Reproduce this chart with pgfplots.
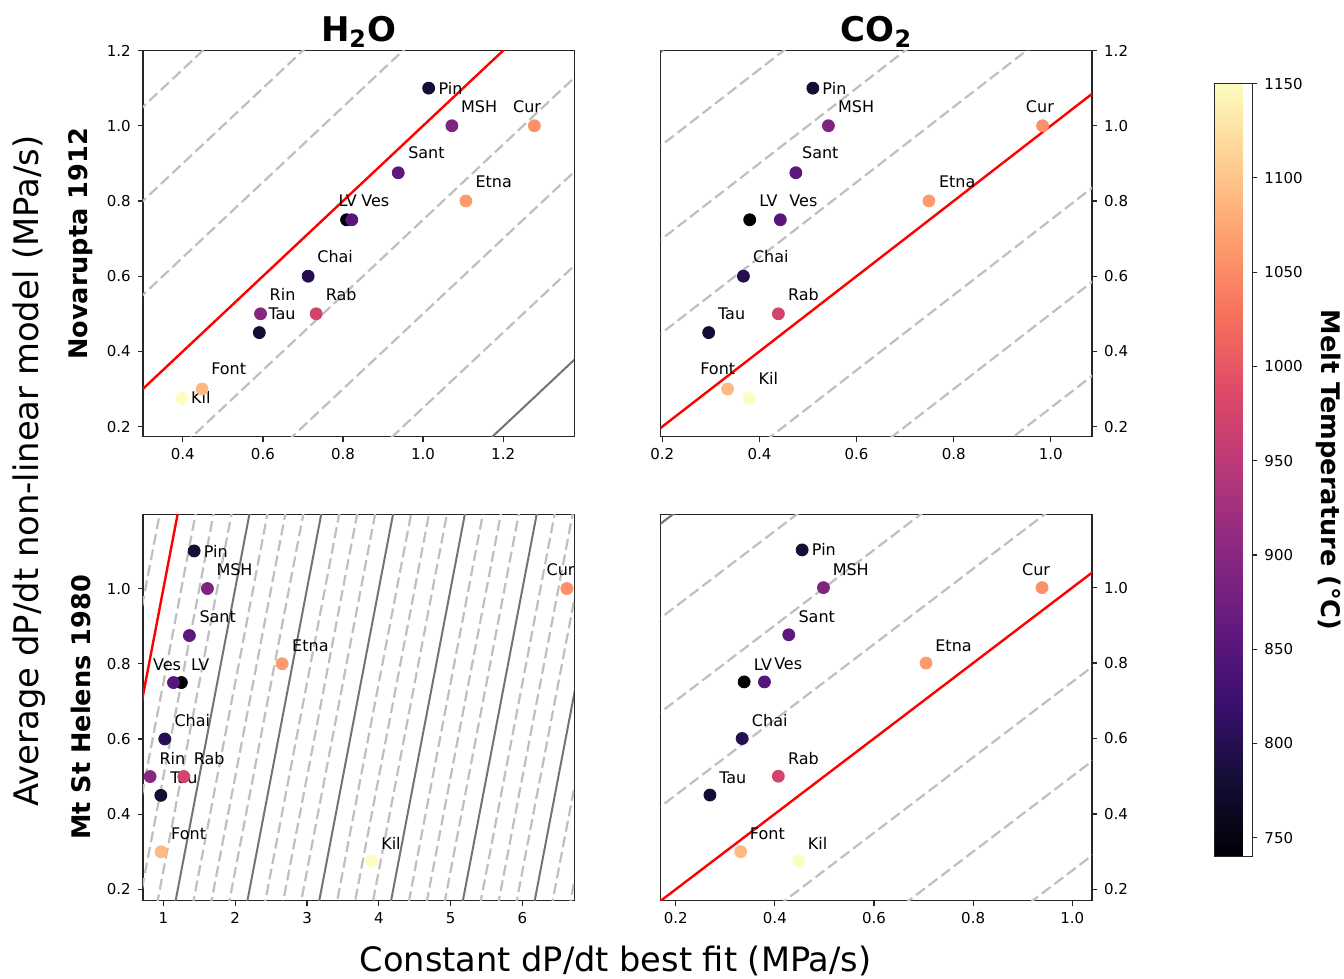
\documentclass[border=0pt]{standalone}
\usepackage{fontspec}
\setmainfont{DejaVu Sans}
\usepackage{pgfplots}
\pgfplotsset{compat=1.18}
\usepackage{pgfplotstable}

\pgfplotsset{colormap={magma}{rgb255=(0,0,4) rgb255=(20,14,54) rgb255=(59,15,112) rgb255=(100,26,128) rgb255=(140,41,129) rgb255=(183,55,121) rgb255=(222,73,104) rgb255=(247,112,92) rgb255=(254,159,109) rgb255=(254,207,146) rgb255=(252,253,191)}}

% H2O, Novarupta 1912
\pgfplotstableread{
name x y T
Pin 1.014 1.10 780
MSH 1.072 1.00 890
Cur 1.278 1.00 1055
Sant 0.938 0.875 855
Etna 1.107 0.80 1065
LV 0.809 0.75 740
Ves 0.822 0.75 850
Chai 0.713 0.60 800
Rin 0.594 0.50 900
Rab 0.733 0.50 975
Tau 0.591 0.45 780
Font 0.448 0.30 1090
Kil 0.398 0.275 1150
}\tabA
% CO2, Novarupta 1912
\pgfplotstableread{
name x y T
Pin 0.510 1.10 780
MSH 0.542 1.00 890
Cur 0.983 1.00 1055
Sant 0.475 0.875 855
Etna 0.749 0.80 1065
LV 0.380 0.75 740
Ves 0.443 0.75 850
Chai 0.367 0.60 800
Rab 0.439 0.50 975
Tau 0.2955 0.45 780
Font 0.3345 0.30 1090
Kil 0.379 0.275 1150
}\tabB
% H2O, Mt St Helens 1980
\pgfplotstableread{
name x y T
Pin 1.428 1.10 780
MSH 1.613 1.00 890
Cur 6.618 1.00 1055
Sant 1.362 0.875 855
Etna 2.653 0.80 1065
LV 1.250 0.75 740
Ves 1.140 0.75 850
Chai 1.019 0.60 800
Rin 0.815 0.50 900
Rab 1.284 0.50 975
Tau 0.964 0.45 780
Font 0.968 0.30 1090
Kil 3.897 0.275 1150
}\tabC
% CO2, Mt St Helens 1980
\pgfplotstableread{
name x y T
Pin 0.455 1.10 780
MSH 0.498 1.00 890
Cur 0.939 1.00 1055
Sant 0.428 0.875 855
Etna 0.705 0.80 1065
LV 0.338 0.75 740
Ves 0.379 0.75 850
Chai 0.334 0.60 800
Rab 0.407 0.50 975
Tau 0.269 0.45 780
Font 0.331 0.30 1090
Kil 0.448 0.275 1150
}\tabD

\pgfplotsset{
  panel/.style={scale only axis, width=215.7pt, height=193.1pt, anchor=south west,
    tick align=outside, major tick length=2.5pt,
    tick style={black!85, line width=0.6pt},
    axis line style={black!85, line width=0.7pt},
    tick label style={font=\fontsize{7.5}{9}\selectfont},
    /pgf/number format/assume math mode=true,
    /pgf/number format/1000 sep={},
    colormap name=magma, point meta min=740, point meta max=1150},
  onedec/.style={/pgf/number format/fixed, /pgf/number format/fixed zerofill, /pgf/number format/precision=1},
  dguide/.style={color=black!25, line width=1.1pt, dash pattern=on 5.5pt off 2.4pt},
  sguide/.style={color=black!55, line width=1pt},
  rguide/.style={color=red, line width=1.2pt},
  pts/.style={scatter, only marks, mark=*, mark size=3pt,
    scatter/use mapped color={draw=mapped color, fill=mapped color},
    point meta=\thisrow{T}},
}
\tikzset{lbl/.style={anchor=west, inner sep=0pt, font=\fontsize{8}{9.6}\selectfont}}

\newcommand\guides{%
\addplot[dguide] coordinates {(0,-6.75)(8,1.25)};
\addplot[dguide] coordinates {(0,-6.5)(8,1.5)};
\addplot[dguide] coordinates {(0,-6.25)(8,1.75)};
\addplot[dguide] coordinates {(0,-5.75)(8,2.25)};
\addplot[dguide] coordinates {(0,-5.5)(8,2.5)};
\addplot[dguide] coordinates {(0,-5.25)(8,2.75)};
\addplot[dguide] coordinates {(0,-4.75)(8,3.25)};
\addplot[dguide] coordinates {(0,-4.5)(8,3.5)};
\addplot[dguide] coordinates {(0,-4.25)(8,3.75)};
\addplot[dguide] coordinates {(0,-3.75)(8,4.25)};
\addplot[dguide] coordinates {(0,-3.5)(8,4.5)};
\addplot[dguide] coordinates {(0,-3.25)(8,4.75)};
\addplot[dguide] coordinates {(0,-2.75)(8,5.25)};
\addplot[dguide] coordinates {(0,-2.5)(8,5.5)};
\addplot[dguide] coordinates {(0,-2.25)(8,5.75)};
\addplot[dguide] coordinates {(0,-1.75)(8,6.25)};
\addplot[dguide] coordinates {(0,-1.5)(8,6.5)};
\addplot[dguide] coordinates {(0,-1.25)(8,6.75)};
\addplot[dguide] coordinates {(0,-0.75)(8,7.25)};
\addplot[dguide] coordinates {(0,-0.5)(8,7.5)};
\addplot[dguide] coordinates {(0,-0.25)(8,7.75)};
\addplot[dguide] coordinates {(0,0.25)(8,8.25)};
\addplot[dguide] coordinates {(0,0.5)(8,8.5)};
\addplot[dguide] coordinates {(0,0.75)(8,8.75)};
\addplot[sguide] coordinates {(0,-6)(8,2)};
\addplot[sguide] coordinates {(0,-5)(8,3)};
\addplot[sguide] coordinates {(0,-4)(8,4)};
\addplot[sguide] coordinates {(0,-3)(8,5)};
\addplot[sguide] coordinates {(0,-2)(8,6)};
\addplot[sguide] coordinates {(0,-1)(8,7)};
\addplot[sguide] coordinates {(0,1)(8,9)};
\addplot[rguide] coordinates {(0,0)(8,8)};
}

\begin{document}
\begin{tikzpicture}
\useasboundingbox (0,0) rectangle (672pt,489.5pt);

% ---- top left: H2O Novarupta
\begin{axis}[panel, at={(71.4pt,271.1pt)},
  xmin=0.3, xmax=1.3775, ymin=0.173, ymax=1.2,
  xtick={0.4,0.6,0.8,1.0,1.2}, ytick={0.2,0.4,0.6,0.8,1.0,1.2},
  xticklabel style={onedec}, yticklabel style={onedec},
  xtick pos=bottom, ytick pos=left]
\guides
\addplot[pts] table[x=x,y=y] {\tabA};
\node[lbl] at (axis cs:1.038,1.10) {Pin};
\node[lbl] at (axis cs:1.094,1.052) {MSH};
\node[lbl] at (axis cs:1.224,1.052) {Cur};
\node[lbl] at (axis cs:0.962,0.928) {Sant};
\node[lbl] at (axis cs:1.130,0.851) {Etna};
\node[lbl] at (axis cs:0.788,0.80) {LV};
\node[lbl] at (axis cs:0.845,0.80) {Ves};
\node[lbl] at (axis cs:0.735,0.651) {Chai};
\node[lbl] at (axis cs:0.616,0.552) {Rin};
\node[lbl] at (axis cs:0.756,0.552) {Rab};
\node[lbl] at (axis cs:0.613,0.501) {Tau};
\node[lbl] at (axis cs:0.470,0.353) {Font};
\node[lbl] at (axis cs:0.420,0.277) {Kil};
\end{axis}

% ---- top right: CO2 Novarupta
\begin{axis}[panel, at={(330.35pt,271.1pt)},
  xmin=0.1967, xmax=1.085, ymin=0.173, ymax=1.2,
  xtick={0.2,0.4,0.6,0.8,1.0}, ytick={0.2,0.4,0.6,0.8,1.0,1.2},
  xticklabel style={onedec}, yticklabel style={onedec},
  xtick pos=bottom, ytick pos=right, yticklabel pos=right,
  colorbar,
  colorbar style={at={(parent axis.north east)}, anchor=north west,
    xshift=52.6pt, yshift=-16.5pt, scale only axis, width=19pt, height=386.5pt,
    ytick={750,800,...,1150}, yticklabel pos=right, ytick pos=right,
    tick align=outside, major tick length=2.5pt,
    tick style={black!85, line width=0.6pt},
    axis line style={black!85, line width=0.6pt},
    tick label style={font=\fontsize{7.5}{9}\selectfont},
    /pgf/number format/assume math mode=true,
    /pgf/number format/1000 sep={}}]
\guides
\addplot[pts] table[x=x,y=y] {\tabB};
\node[lbl] at (axis cs:0.529,1.10) {Pin};
\node[lbl] at (axis cs:0.561,1.052) {MSH};
\node[lbl] at (axis cs:0.948,1.052) {Cur};
\node[lbl] at (axis cs:0.487,0.928) {Sant};
\node[lbl] at (axis cs:0.769,0.851) {Etna};
\node[lbl] at (axis cs:0.399,0.80) {LV};
\node[lbl] at (axis cs:0.461,0.80) {Ves};
\node[lbl] at (axis cs:0.386,0.651) {Chai};
\node[lbl] at (axis cs:0.458,0.552) {Rab};
\node[lbl] at (axis cs:0.314,0.501) {Tau};
\node[lbl] at (axis cs:0.2775,0.353) {Font};
\node[lbl] at (axis cs:0.3975,0.327) {Kil};
\end{axis}

% ---- bottom left: H2O Mt St Helens
\begin{axis}[panel, at={(71.4pt,39.15pt)},
  xmin=0.713, xmax=6.72, ymin=0.17, ymax=1.197,
  xtick={1,2,3,4,5,6}, ytick={0.2,0.4,0.6,0.8,1.0},
  yticklabel style={onedec},
  xtick pos=bottom, ytick pos=left]
\guides
\addplot[pts] table[x=x,y=y] {\tabC};
\node[lbl] at (axis cs:1.557,1.10) {Pin};
\node[lbl] at (axis cs:1.734,1.05) {MSH};
\node[lbl] at (axis cs:6.33,1.05) {Cur};
\node[lbl] at (axis cs:1.497,0.925) {Sant};
\node[lbl] at (axis cs:2.788,0.848) {Etna};
\node[lbl] at (axis cs:0.852,0.798) {Ves};
\node[lbl] at (axis cs:1.381,0.798) {LV};
\node[lbl] at (axis cs:1.149,0.648) {Chai};
\node[lbl] at (axis cs:0.94,0.548) {Rin};
\node[lbl] at (axis cs:1.418,0.548) {Rab};
\node[lbl] at (axis cs:1.093,0.497) {Tau};
\node[lbl] at (axis cs:1.103,0.348) {Font};
\node[lbl] at (axis cs:4.028,0.322) {Kil};
\end{axis}

% ---- bottom right: CO2 Mt St Helens
\begin{axis}[panel, at={(330.35pt,39.15pt)},
  xmin=0.1697, xmax=1.04, ymin=0.17, ymax=1.194,
  xtick={0.2,0.4,0.6,0.8,1.0}, ytick={0.2,0.4,0.6,0.8,1.0},
  xticklabel style={onedec}, yticklabel style={onedec},
  xtick pos=bottom, ytick pos=right, yticklabel pos=right]
\guides
\addplot[pts] table[x=x,y=y] {\tabD};
\node[lbl] at (axis cs:0.474,1.10) {Pin};
\node[lbl] at (axis cs:0.516,1.048) {MSH};
\node[lbl] at (axis cs:0.898,1.048) {Cur};
\node[lbl] at (axis cs:0.447,0.922) {Sant};
\node[lbl] at (axis cs:0.723,0.846) {Etna};
\node[lbl] at (axis cs:0.357,0.797) {LV};
\node[lbl] at (axis cs:0.398,0.797) {Ves};
\node[lbl] at (axis cs:0.353,0.647) {Chai};
\node[lbl] at (axis cs:0.426,0.546) {Rab};
\node[lbl] at (axis cs:0.287,0.497) {Tau};
\node[lbl] at (axis cs:0.349,0.347) {Font};
\node[lbl] at (axis cs:0.466,0.322) {Kil};
\end{axis}

% ---- titles and labels
\node[anchor=base, font=\bfseries\fontsize{17}{20}\selectfont] at (179.25pt,468.5pt) {H\textsubscript{2}O};
\node[anchor=base, font=\bfseries\fontsize{17}{20}\selectfont] at (438.25pt,468.5pt) {CO\textsubscript{2}};
\node[rotate=90, font=\bfseries\fontsize{12.8}{15}\selectfont] at (40.5pt,367.5pt) {Novarupta 1912};
\node[rotate=90, font=\bfseries\fontsize{12.8}{15}\selectfont] at (40.5pt,135.75pt) {Mt St Helens 1980};
\node[rotate=90, font=\fontsize{16.9}{20}\selectfont] at (14.5pt,254pt) {Average dP/dt non-linear model (MPa/s)};
\node[anchor=base, font=\fontsize{16.8}{20}\selectfont] at (307.75pt,3.9pt) {Constant dP/dt best fit (MPa/s)};
\node[rotate=-90, font=\bfseries\fontsize{12.8}{15}\selectfont] at (664.5pt,254.5pt) {Melt Temperature (°C)};
\end{tikzpicture}
\end{document}
